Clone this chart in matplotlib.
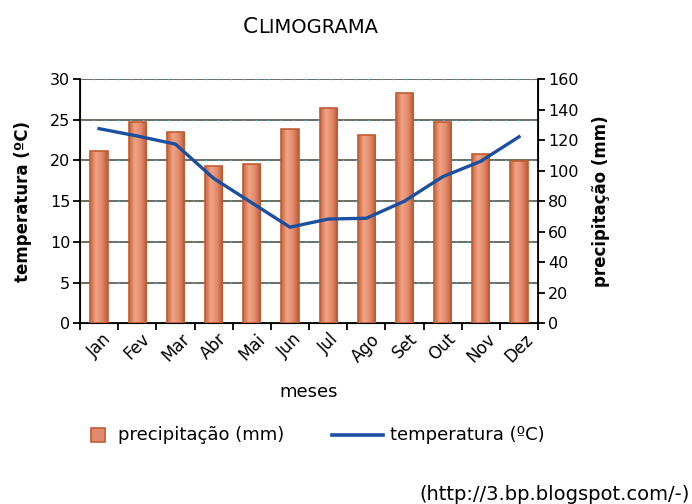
import numpy as np
import matplotlib.pyplot as plt
from matplotlib.patches import Rectangle
from matplotlib.lines import Line2D
from matplotlib.colors import LinearSegmentedColormap

plt.rcParams['font.family'] = ['DejaVu Sans']

meses = ['Jan', 'Fev', 'Mar', 'Abr', 'Mai', 'Jun', 'Jul', 'Ago', 'Set', 'Out', 'Nov', 'Dez']
precipitacao = [113, 132, 125, 103, 104, 127, 141, 123, 151, 132, 111, 106]  # mm
temperatura = [23.9, 23.0, 22.0, 17.8, 14.8, 11.8, 12.8, 12.9, 15.0, 18.0, 19.9, 22.9]  # ºC

x = np.arange(len(meses))
cor_borda = '#c05c34'
cor_linha = '#1c4fa0'

fig = plt.figure(figsize=(6.92, 5.04), dpi=100)
ax = fig.add_axes([0.1156, 0.3585, 0.662, 0.4848])
ax2 = ax.twinx()

# linhas de grade (cinza com pontos azuis por cima)
for g in range(5, 31, 5):
    ax.axhline(g, color='#6b6b5e', lw=1.4, zorder=1)
    ax.axhline(g, color='#35c0ff', lw=1.0, ls=(0, (1, 8)), zorder=1.1)

# barras de precipitacao (eixo da direita), com degrade tipo cilindro
cmap = LinearSegmentedColormap.from_list('cil', ['#c8653e', '#f0a486', '#e38a6c', '#bd5a34'])
grad = np.linspace(0, 1, 64).reshape(1, -1)
barras = ax2.bar(x, precipitacao, width=0.45, facecolor='none', edgecolor=cor_borda, lw=1.2, zorder=3)
for b in barras:
    im = ax2.imshow(grad, cmap=cmap, aspect='auto', zorder=2,
                    extent=[b.get_x(), b.get_x() + b.get_width(), 0, b.get_height()])
    im.set_clip_path(b)

# linha de temperatura (escala da esquerda) por cima das barras
ax3 = ax.twinx()
ax3.plot(x, temperatura, color=cor_linha, lw=2.4, zorder=3)
ax3.set_ylim(0, 30)
ax3.axis('off')

ax.set_xlim(-0.5, 11.5)
ax2.set_xlim(-0.5, 11.5)
ax3.set_xlim(-0.5, 11.5)
ax.set_ylim(0, 30)
ax2.set_ylim(0, 160)
ax.set_yticks(range(0, 31, 5))
ax2.set_yticks(range(0, 161, 20))

ax.set_xticks(x)
ax.set_xticklabels(meses, rotation=45, fontsize=12)
ax.set_xticks(np.arange(-0.5, 12, 1), minor=True)
ax.tick_params(axis='x', which='major', length=0, pad=5)
ax.tick_params(axis='x', which='minor', length=5, width=1.3, direction='out')
ax.tick_params(axis='y', length=5, width=1.3, labelsize=11.5, pad=2)
ax2.tick_params(axis='y', length=5, width=1.3, labelsize=11.5, pad=2)

for a in (ax, ax2, ax3):
    a.spines['top'].set_visible(False)
ax.spines['left'].set_linewidth(1.3)
ax.spines['bottom'].set_linewidth(1.3)
ax2.spines['right'].set_linewidth(1.3)

ax.set_ylabel('temperatura (ºC)', fontsize=12, fontweight='bold', labelpad=13)
ax2.set_ylabel('precipitação (mm)', fontsize=12, fontweight='bold', labelpad=10)
ax.set_xlabel('meses', fontsize=13, labelpad=12)

# titulo em versaletes
fig.text(0.351, 0.9345, 'C', fontsize=15.5, ha='left', va='baseline')
fig.text(0.3725, 0.9345, 'LIMOGRAMA', fontsize=14, ha='left', va='baseline')

# legenda desenhada a mao
fig.add_artist(Rectangle((91 / 692, 1 - 442 / 504), 14 / 692, 14 / 504,
                         facecolor='#e38a6c', edgecolor=cor_borda, lw=1.2, transform=fig.transFigure))
fig.text(118 / 692, 1 - 435 / 504, 'precipitação (mm)', fontsize=13, va='center')
fig.add_artist(Line2D([332 / 692, 383 / 692], [1 - 435 / 504] * 2, color=cor_linha, lw=2.6,
                      transform=fig.transFigure))
fig.text(390 / 692, 1 - 435 / 504, 'temperatura (ºC)', fontsize=13, va='center')

fig.text(0.997, 1 - 494 / 504, '(http://3.bp.blogspot.com/-)', fontsize=14, ha='right', va='center')

fig.savefig('out.png')
